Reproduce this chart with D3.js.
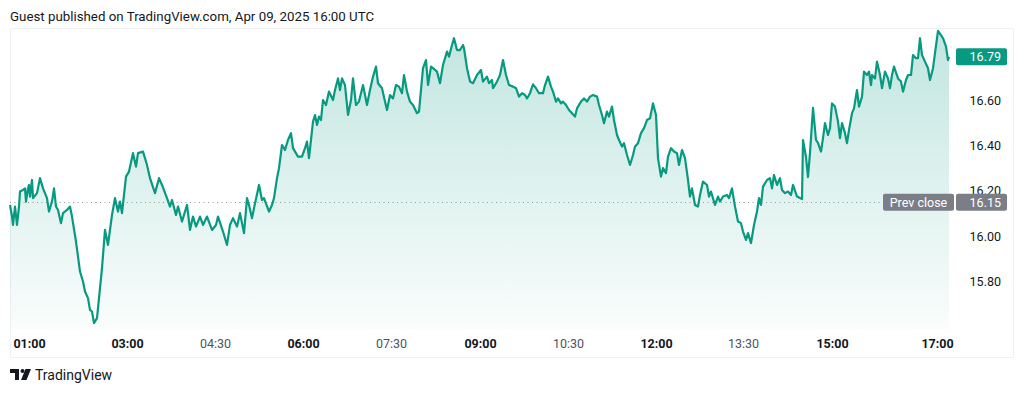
<!DOCTYPE html>
<html>
<head>
<meta charset="utf-8">
<script src="https://cdn.jsdelivr.net/npm/d3@7"></script>
<style>
  body { margin: 0; background: #fff; }
  svg { display: block; font-family: Roboto, "Noto Sans", sans-serif; }
</style>
</head>
<body>
<script>
// intraday series, [bar index, price]; bars are 1-minute bars counted from the first bar
const series = [
  [0,16.138],[2,16.087],[3,16.050],[5,16.131],[7,16.050],[9,16.131],[10,16.197],[13,16.204],[15,16.211],[16,16.153],[18,16.211],[19,16.226],[20,16.175],[22,16.248],[23,16.168],[27,16.190],[30,16.256],[33,16.211],[37,16.168],[39,16.109],[42,16.153],[44,16.211],[46,16.131],[48,16.116],[51,16.058],[53,16.102],[57,16.116],[60,16.131],[62,16.087],[66,15.977],[70,15.845],[73,15.801],[75,15.757],[78,15.728],[80,15.676],[82,15.669],[84,15.618],[87,15.640],[89,15.728],[92,15.860],[95,16.028],[98,15.962],[102,16.094],[105,16.168],[108,16.109],[110,16.153],[112,16.102],[116,16.263],[119,16.285],[123,16.366],[126,16.307],[128,16.366],[133,16.373],[137,16.314],[140,16.256],[145,16.190],[149,16.256],[152,16.226],[157,16.168],[160,16.131],[162,16.160],[166,16.094],[168,16.131],[172,16.065],[177,16.138],[180,16.028],[183,16.087],[186,16.043],[190,16.087],[193,16.050],[197,16.087],[202,16.028],[206,16.050],[208,16.087],[213,16.021],[217,15.962],[220,16.050],[223,16.080],[227,16.043],[230,16.102],[234,16.014],[237,16.168],[239,16.138],[242,16.080],[244,16.124],[249,16.226],[252,16.160],[254,16.168],[259,16.109],[262,16.138],[264,16.168],[267,16.256],[269,16.300],[272,16.402],[275,16.380],[278,16.424],[281,16.454],[283,16.388],[288,16.351],[292,16.351],[295,16.388],[297,16.417],[299,16.344],[301,16.424],[303,16.505],[305,16.534],[307,16.490],[309,16.527],[311,16.512],[313,16.600],
  [316,16.578],[319,16.637],[323,16.600],[325,16.644],[328,16.695],[330,16.644],[332,16.695],[335,16.666],[338,16.534],[341,16.600],[343,16.695],[346,16.578],[349,16.593],[353,16.666],[357,16.578],[360,16.644],[363,16.703],[366,16.747],[368,16.674],[372,16.652],[375,16.593],[377,16.556],[380,16.622],[383,16.607],[386,16.666],[389,16.659],[392,16.630],[394,16.710],[397,16.637],[400,16.593],[403,16.578],[407,16.542],[409,16.549],[413,16.740],[416,16.776],[418,16.666],[421,16.747],[423,16.740],[427,16.725],[430,16.674],[433,16.754],[437,16.813],[439,16.791],[442,16.842],[444,16.872],[447,16.820],[450,16.820],[453,16.842],[454,16.828],[457,16.740],[460,16.681],[463,16.674],[467,16.710],[471,16.732],[473,16.681],[477,16.703],[479,16.674],[482,16.688],[483,16.652],[487,16.681],[490,16.710],[493,16.776],[496,16.710],[499,16.666],[503,16.659],[506,16.652],[509,16.615],[512,16.630],[515,16.622],[517,16.607],[520,16.630],[523,16.669],[526,16.652],[529,16.630],[533,16.630],[535,16.666],[538,16.703],[541,16.659],[543,16.637],[546,16.593],[548,16.607],[551,16.585],[553,16.593],[556,16.578],[559,16.556],[562,16.542],[565,16.527],[567,16.563],[571,16.593],[574,16.607],[577,16.593],[580,16.615],[583,16.622],[587,16.615],[589,16.578],[592,16.534],[594,16.498],[597,16.549],[599,16.527],[602,16.571],[604,16.512],[607,16.446],[609,16.424],[612,16.395],[614,16.410],[617,16.358],[620,16.314],[623,16.358],[625,16.395],
  [628,16.410],[631,16.454],[634,16.476],[637,16.512],[640,16.520],[643,16.585],[646,16.534],[648,16.344],[651,16.263],[653,16.300],[656,16.278],[658,16.351],[661,16.388],[664,16.373],[667,16.366],[669,16.314],[672,16.380],[675,16.344],[678,16.248],[680,16.175],[682,16.211],[685,16.138],[688,16.131],[690,16.182],[693,16.241],[697,16.226],[699,16.175],[701,16.197],[705,16.138],[708,16.175],[710,16.153],[713,16.175],[717,16.182],[719,16.168],[722,16.211],[725,16.131],[728,16.065],[731,16.058],[733,16.021],[736,15.984],[738,16.014],[741,15.970],[744,16.050],[747,16.109],[749,16.168],[751,16.138],[753,16.219],[757,16.248],[760,16.256],[762,16.211],[764,16.270],[767,16.226],[770,16.256],[772,16.204],[775,16.190],[778,16.197],[781,16.182],[783,16.226],[787,16.175],[792,16.164],[793,16.424],[796,16.349],[798,16.261],[800,16.367],[803,16.565],[806,16.424],[808,16.411],[811,16.373],[813,16.432],[815,16.498],[818,16.446],[820,16.476],[822,16.585],[825,16.571],[828,16.505],[830,16.432],[832,16.498],[835,16.454],[837,16.410],[839,16.468],[842,16.542],[844,16.563],[847,16.644],[849,16.571],[852,16.615],[854,16.725],[857,16.710],[859,16.725],[861,16.666],[862,16.710],[865,16.695],[867,16.769],[870,16.710],[872,16.652],[875,16.725],[878,16.695],[880,16.652],[882,16.710],[884,16.747],[888,16.695],[891,16.681],[893,16.637],[896,16.688],[898,16.710],[901,16.710],[903,16.798],[906,16.784],[908,16.784],[910,16.872],[912,16.798],[915,16.769],[918,16.740],[920,16.688],[923,16.740],[925,16.806],[928,16.904],[931,16.886],[933,16.872],[936,16.835],[938,16.776],[939,16.79]
];

const priceTicks = [15.80, 16.00, 16.20, 16.40, 16.60];
const timeTickBars = [19, 117, 205, 293, 381, 470, 558, 646, 733, 822, 927];
const timeTickLabels = ["01:00", "03:00", "04:30", "06:00", "07:30", "09:00", "10:30", "12:00", "13:30", "15:00", "17:00"];
const prevClose = 16.15;
const lastPrice = 16.79;
const title = "Guest published on TradingView.com, Apr 09, 2025 16:00 UTC";

let width = 1024;
let height = 394;
let pane = {left: 10, top: 28, right: 1013, bottom: 329, axisBottom: 357, dataRight: 950};

let svg = d3.select("body")
            .append("svg")
            .attr("width", width)
            .attr("height", height);

// scales
let x = d3.scaleLinear()
          .domain([0, 940])
          .range([pane.left, pane.dataRight]);
let y = d3.scaleLinear()
          .domain([15.592, 16.917])
          .range([pane.bottom, pane.top]);

// header
svg.append("text")
   .attr("x", 10)
   .attr("y", 21)
   .style("font-size", "13.3px")
   .style("fill", "#131722")
   .text(title);

// frame
svg.append("rect")
   .attr("x", pane.left + 0.5)
   .attr("y", pane.top + 0.5)
   .attr("width", pane.right - pane.left)
   .attr("height", pane.axisBottom - pane.top)
   .style("fill", "none")
   .style("stroke", "#eff1f4");

// gradient for the area
let grad = svg.append("defs")
              .append("linearGradient")
              .attr("id", "areaFill")
              .attr("gradientUnits", "userSpaceOnUse")
              .attr("x1", 0).attr("x2", 0)
              .attr("y1", y(d3.max(series, d => d[1])))
              .attr("y2", pane.bottom);
grad.append("stop").attr("offset", 0).attr("stop-color", "#089981").attr("stop-opacity", 0.25);
grad.append("stop").attr("offset", 1).attr("stop-color", "#089981").attr("stop-opacity", 0.02);

let area = d3.area()
             .x(d => x(d[0]))
             .y0(pane.bottom)
             .y1(d => y(d[1]));
let line = d3.line()
             .x(d => x(d[0]))
             .y(d => y(d[1]));

svg.append("path")
   .datum(series)
   .attr("d", area)
   .style("fill", "url(#areaFill)");

// prev close dotted line
svg.append("line")
   .attr("x1", pane.left)
   .attr("x2", 883)
   .attr("y1", Math.round(y(prevClose)) + 0.5)
   .attr("y2", Math.round(y(prevClose)) + 0.5)
   .style("stroke", "#9598a1")
   .style("stroke-width", 1)
   .style("stroke-dasharray", "1,3.5");

svg.append("path")
   .datum(series)
   .attr("d", line)
   .style("fill", "none")
   .style("stroke", "#089981")
   .style("stroke-width", 2.2)
   .style("stroke-linejoin", "round");

// price axis
let yAxis = svg.append("g")
               .attr("transform", "translate(1001,0)")
               .call(d3.axisLeft(y).tickValues(priceTicks).tickFormat(d => d.toFixed(2)).tickSize(0).tickPadding(0));
yAxis.select(".domain").remove();
yAxis.selectAll("text")
     .style("font-family", "Roboto, sans-serif")
     .style("font-size", "12.5px")
     .style("fill", "#131722");

// time axis
let xAxis = svg.append("g")
               .attr("transform", `translate(0,${pane.bottom})`)
               .call(d3.axisBottom(x).tickValues(timeTickBars).tickFormat((d, i) => timeTickLabels[i]).tickSize(0).tickPadding(10.5));
xAxis.select(".domain").remove();
xAxis.selectAll("text")
     .style("font-family", "Roboto, sans-serif")
     .style("font-size", "12.5px")
     .style("font-weight", (d, i) => timeTickLabels[i].endsWith(":00") ? "bold" : "normal")
     .style("fill", (d, i) => timeTickLabels[i].endsWith(":00") ? "#131722" : "#50535e");

// value labels on the price scale
function priceBadge(x0, w, value, label, color) {
  let cy = y(value);
  svg.append("rect")
     .attr("x", x0)
     .attr("y", cy - 8.5)
     .attr("width", w)
     .attr("height", 17)
     .attr("rx", 2)
     .style("fill", color);
  svg.append("text")
     .attr("x", label ? x0 + w / 2 : 1001)
     .attr("y", cy)
     .attr("dy", "0.35em")
     .attr("text-anchor", label ? "middle" : "end")
     .style("font-size", "12.5px")
     .style("fill", "#fff")
     .text(label || value.toFixed(2));
}
priceBadge(883, 71, prevClose, "Prev close", "#7b7e87");
priceBadge(956, 51, prevClose, null, "#7b7e87");
priceBadge(956, 51, lastPrice, null, "#089981");

// footer logo
let logo = svg.append("g").attr("transform", "translate(10,369)");
logo.append("path")
    .attr("d", "M0,0 H9 V11 H5 V4 H0 Z")
    .style("fill", "#131722");
logo.append("circle")
    .attr("cx", 12.5)
    .attr("cy", 2)
    .attr("r", 2)
    .style("fill", "#131722");
logo.append("path")
    .attr("d", "M15.5,0 H21 L16.5,11 H11 Z")
    .style("fill", "#131722");
svg.append("text")
   .attr("x", 35)
   .attr("y", 380)
   .style("font-size", "14px")
   .style("fill", "#131722")
   .text("TradingView");
</script>
</body>
</html>
